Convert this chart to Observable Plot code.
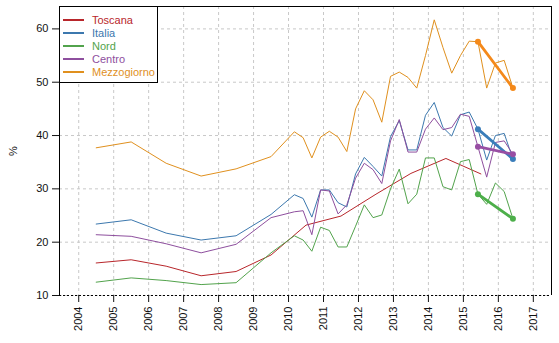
<!DOCTYPE html>
<html><head><meta charset="utf-8">
<script src="https://cdn.jsdelivr.net/npm/d3@7"></script>
<script src="https://cdn.jsdelivr.net/npm/@observablehq/plot@0.6"></script>
<style>
body{margin:0;background:#fff;font-family:"Liberation Sans",Arial,sans-serif;}
#wrap{position:relative;width:559px;height:343px;}
#legend{position:absolute;left:59px;top:6px;width:99px;height:77px;box-sizing:border-box;background:#fff;border:1px solid #000;font-size:11px;}
#legend .item{position:absolute;left:3px;height:13px;line-height:13px;white-space:nowrap;}
#legend .sw{display:inline-block;width:21px;height:0;border-top:2px solid;vertical-align:middle;margin-right:8px;position:relative;top:-1px;}
</style></head><body><div id="wrap"></div>
<script>
// Series names and colours
const seriesNames = ["Toscana", "Italia", "Nord", "Centro", "Mezzogiorno"];
const seriesColors = ["#B8262B", "#3C78AE", "#52A34C", "#8E4F9E", "#E0901E"];
const thickColors = ["#B8262B", "#3A7DBA", "#4DAF4A", "#984EA3", "#F4891A"];

// Axis ticks
const xTickYears = [2004, 2005, 2006, 2007, 2008, 2009, 2010, 2011, 2012, 2013, 2014, 2015, 2016, 2017];
const yTicks = [10, 20, 30, 40, 50, 60];

// Annual observations (mid-year) 2004-2009
const annualYears = [2004, 2005, 2006, 2007, 2008, 2009];
const italiaAnnual = [23.4, 24.2, 21.7, 20.4, 21.2, 25.2];
const nordAnnual = [12.5, 13.3, 12.8, 12.05, 12.4, 18.0];
const centroAnnual = [21.4, 21.1, 19.7, 18.0, 19.6, 24.6];
const mezzogiornoAnnual = [37.7, 38.8, 34.8, 32.4, 33.75, 36.05];

// Toscana: annual (mid-year) 2004-2015
const toscanaYears = [2004, 2005, 2006, 2007, 2008, 2009, 2010, 2011, 2012, 2013, 2014, 2015];
const toscana = [16.1, 16.7, 15.5, 13.7, 14.5, 17.6, 23.2, 24.9, 29.0, 32.9, 35.7, 32.8];

// Quarterly observations 2010Q1 - 2016Q2
const quarters = ["2010Q1","2010Q2","2010Q3","2010Q4","2011Q1","2011Q2","2011Q3","2011Q4",
  "2012Q1","2012Q2","2012Q3","2012Q4","2013Q1","2013Q2","2013Q3","2013Q4",
  "2014Q1","2014Q2","2014Q3","2014Q4","2015Q1","2015Q2","2015Q3","2015Q4","2016Q1","2016Q2"];
const italiaQ = [28.9, 28.2, 24.7, 29.8, 29.8, 27.4, 26.6, 32.8, 35.9, 34.2, 32.4, 39.8, 42.8, 37.3, 37.3, 43.8,
  46.2, 41.5, 39.9, 43.9, 44.4, 41.2, 35.4, 40.0, 40.4, 35.6];
const nordQ = [21.2, 20.4, 18.3, 22.8, 22.2, 19.1, 19.1, 23.0, 27.0, 24.6, 25.1, 30.0, 33.7, 27.2, 29.0, 35.8,
  35.8, 30.4, 29.8, 35.1, 35.5, 29.0, 27.1, 31.1, 29.5, 24.4];
const centroQ = [25.7, 25.9, 21.4, 29.8, 29.6, 25.3, 27.0, 32.0, 34.8, 33.6, 31.0, 39.0, 43.0, 36.9, 36.9, 41.2,
  43.3, 41.1, 41.5, 44.0, 43.6, 37.9, 32.2, 38.7, 39.0, 36.5];
const mezzogiornoQ = [40.7, 39.6, 35.8, 39.7, 40.8, 39.7, 37.0, 45.0, 48.4, 46.7, 42.5, 51.1, 51.9, 50.9, 48.9, 55.0,
  61.7, 56.5, 51.7, 55.0, 57.7, 57.6, 48.9, 53.6, 54.1, 48.9];

// Year-on-year comparison segments (2015Q2 -> 2016Q2)
const yoyQuarters = ["2015Q2", "2016Q2"];
const yoySeries = ["Italia", "Nord", "Centro", "Mezzogiorno"];

// ---- build tables ----
const midYear = y => y + 0.5;
const qDate = s => +s.slice(0, 4) + (3 * +s.slice(5) - 1) / 12;

const rows = [];
toscanaYears.forEach((y, i) => rows.push({series: "Toscana", x: midYear(y), v: toscana[i]}));
const others = {
  Italia: [italiaAnnual, italiaQ],
  Nord: [nordAnnual, nordQ],
  Centro: [centroAnnual, centroQ],
  Mezzogiorno: [mezzogiornoAnnual, mezzogiornoQ]
};
for (const name of ["Italia", "Nord", "Centro", "Mezzogiorno"]) {
  const [a, q] = others[name];
  annualYears.forEach((y, i) => rows.push({series: name, x: midYear(y), v: a[i]}));
  quarters.forEach((s, i) => rows.push({series: name, x: qDate(s), v: q[i]}));
}
const yoy = [];
for (const name of yoySeries) {
  const q = others[name][1];
  for (const s of yoyQuarters) yoy.push({series: name, x: qDate(s), v: q[quarters.indexOf(s)]});
}

const colorOf = Object.fromEntries(seriesNames.map((n, i) => [n, seriesColors[i]]));
const thickOf = Object.fromEntries(seriesNames.map((n, i) => [n, thickColors[i]]));
const xDomain = [2003.45, 2017.52];
const yDomain = [10, 64.2];

const chart = Plot.plot({
  width: 559,
  height: 343,
  marginLeft: 59,
  marginRight: 8,
  marginTop: 6,
  marginBottom: 48,
  style: {fontSize: "11px", fontFamily: "'Liberation Sans', Arial, sans-serif", color: "#111", background: "#fff"},
  x: {domain: xDomain},
  y: {domain: yDomain},
  marks: [
    Plot.gridX(xTickYears, {stroke: "#c8c8c8", strokeOpacity: 1, strokeDasharray: "3,3"}),
    Plot.gridY(yTicks, {stroke: "#c8c8c8", strokeOpacity: 1, strokeDasharray: "3,3"}),
    Plot.line(rows, {x: "x", y: "v", z: "series", stroke: d => colorOf[d.series], strokeWidth: 1}),
    Plot.line(yoy, {x: "x", y: "v", z: "series", stroke: d => thickOf[d.series], strokeWidth: 2.8}),
    Plot.dot(yoy, {x: "x", y: "v", fill: d => thickOf[d.series], r: 3}),
    Plot.ruleX([xDomain[0], xDomain[1]], {stroke: "#000"}),
    Plot.ruleY([yDomain[1]], {stroke: "#000"}),
    Plot.ruleY([yDomain[0]], {stroke: "#000", strokeDasharray: "2,2"}),
    Plot.axisX({ticks: xTickYears, tickSize: 7, tickPadding: 4, tickRotate: -90, tickFormat: d => String(d), label: null}),
    Plot.axisY({ticks: yTicks, tickSize: 7, tickPadding: 4, label: "%", labelAnchor: "center", labelOffset: 50, labelArrow: "none"})
  ]
});

const wrap = document.getElementById("wrap");
wrap.appendChild(chart);

const legend = document.createElement("div");
legend.id = "legend";
seriesNames.forEach((n, i) => {
  const it = document.createElement("div");
  it.className = "item";
  it.style.top = (7 + i * 13) + "px";
  it.style.color = seriesColors[i];
  const sw = document.createElement("span");
  sw.className = "sw";
  sw.style.borderColor = seriesColors[i];
  it.appendChild(sw);
  it.appendChild(document.createTextNode(n));
  legend.appendChild(it);
});
wrap.appendChild(legend);
</script>
</body></html>
